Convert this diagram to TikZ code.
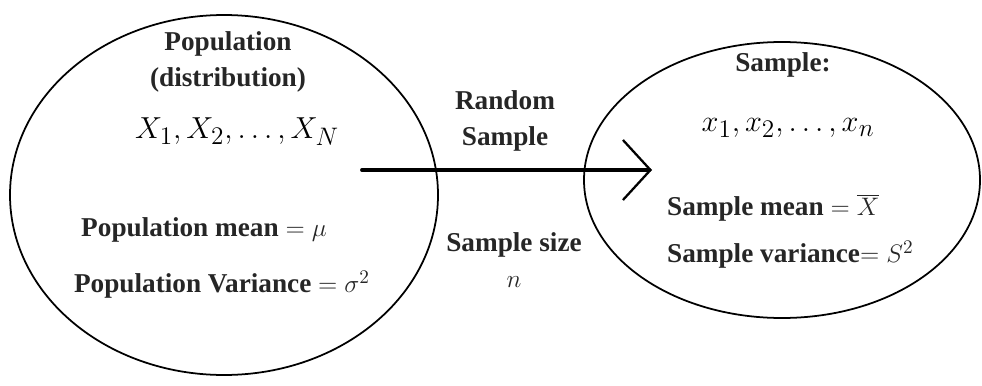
\documentclass[tikz,border=0pt]{standalone}
\usepackage{fontspec}
\setmainfont{Liberation Serif}
\usetikzlibrary{arrows.meta}
\begin{document}
\begin{tikzpicture}[line cap=round,line join=round,every node/.style={inner sep=1pt},
  lbl/.style={font=\fontsize{15.5}{20}\selectfont\bfseries,align=center,text=black!85},
  mth/.style={font=\fontsize{19}{23}\selectfont}]
  \useasboundingbox (0,0) rectangle (19.64,7.70);
  % 总体（左边大椭圆）
  \draw[line width=1pt] (4.48,3.80) ellipse (4.28 and 3.60);
  \node[lbl] (poptitle) at (4.56,6.46) {Population\\(distribution)};
  \node[mth] (popdata) at (4.74,5.06) {$X_1,X_2,\ldots,X_N$};
  \node[lbl] (popmean) at (4.08,3.10) {Population mean $=\mu$};
  \node[lbl] (popvar) at (4.44,2.00) {Population Variance $=\sigma^2$};
  % 样本（右边椭圆）
  \draw[line width=1pt] (15.64,4.10) ellipse (3.96 and 2.76);
  \node[lbl] (samptitle) at (15.66,6.40) {Sample:};
  \node[mth] (sampdata) at (15.76,5.14) {$x_1,x_2,\ldots,x_n$};
  \node[lbl,anchor=west] (sampmean) at (13.30,3.54) {Sample mean $=\overline{X}$};
  \node[lbl,anchor=west] (sampvar) at (13.30,2.60) {Sample variance$=S^2$};
  % 随机抽样箭头
  \coordinate (drawfrom) at (7.24,4.30);
  \coordinate (drawto) at (13.04,4.30);
  \draw[line width=2.2pt,-{Straight Barb[length=0.55cm,width=1.2cm,line width=1.3pt]}] (drawfrom) -- (drawto);
  \node[lbl] (randlbl) at (10.10,5.28) {Random\\Sample};
  \node[lbl] (sizelbl) at (10.28,2.50) {Sample size\\$n$};
\end{tikzpicture}
\end{document}
